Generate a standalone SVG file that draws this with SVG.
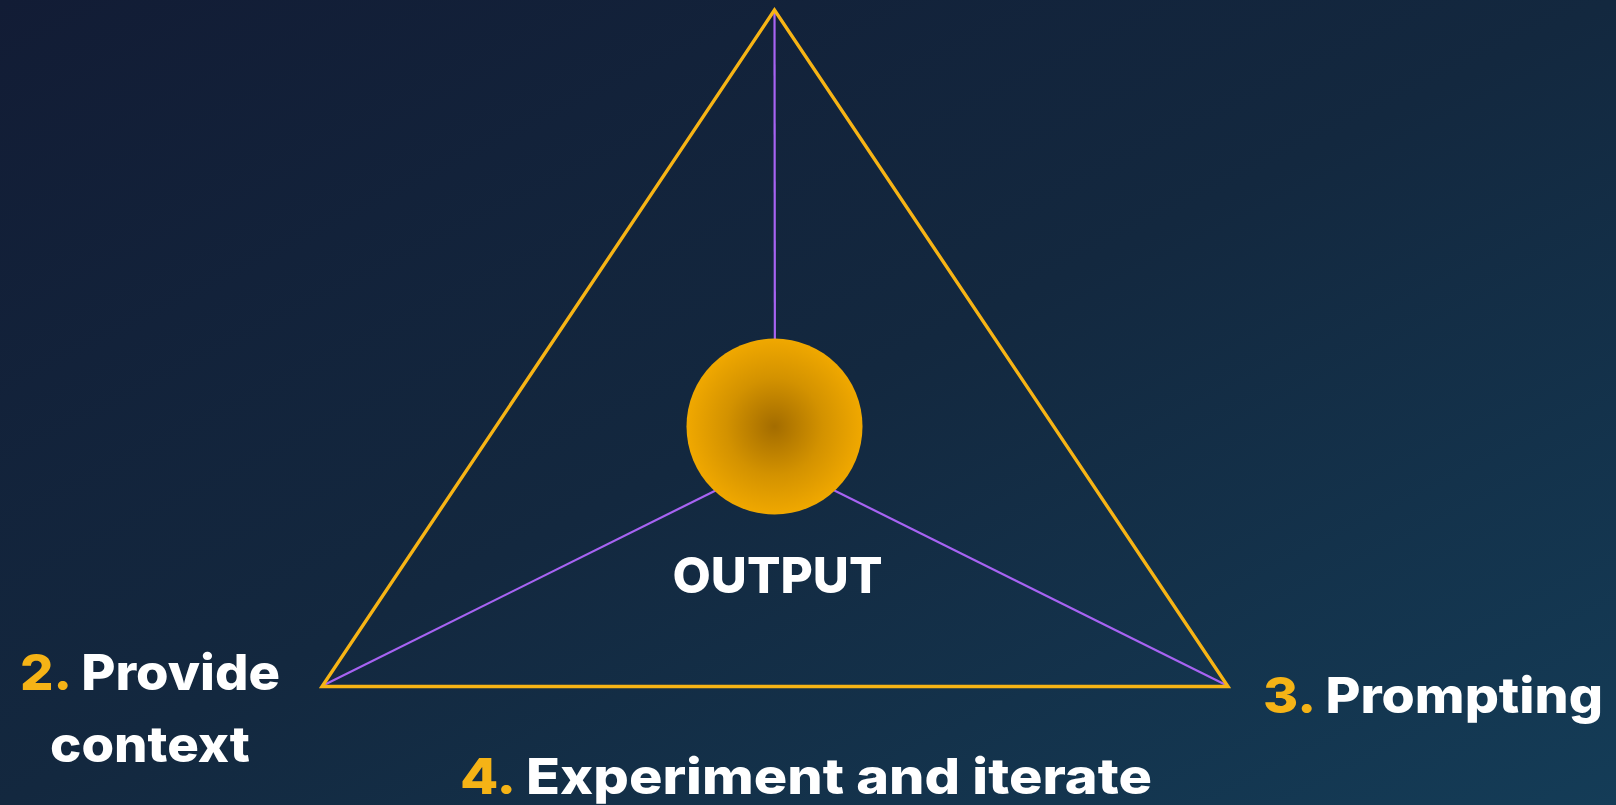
<svg xmlns="http://www.w3.org/2000/svg" width="1616" height="805" viewBox="0 0 1616 805">
<defs>
<linearGradient id="bg" x1="0" y1="0" x2="1" y2="1">
<stop offset="0" stop-color="#121c35"/>
<stop offset="0.5" stop-color="#13283f"/>
<stop offset="1" stop-color="#143c57"/>
</linearGradient>
<radialGradient id="orb" cx="0.5" cy="0.5" r="0.5">
<stop offset="0" stop-color="#a36c00"/>
<stop offset="0.55" stop-color="#d39200"/>
<stop offset="1" stop-color="#f0a800"/>
</radialGradient>
<style>
.lbl{font-family:"Inter","Liberation Sans",sans-serif;font-weight:800;font-size:50px;fill:#ffffff}
.num{fill:#f5b316}
.spoke{stroke:#a763f2;stroke-width:2.2;fill:none}
.tri{stroke:#f7b415;stroke-width:3.4;fill:none;stroke-linejoin:miter}
</style>
</defs>
<rect width="1616" height="805" fill="url(#bg)"/>
<g id="connectors">
<line class="spoke" x1="774.5" y1="10" x2="775" y2="461"/>
<line class="spoke" x1="325" y1="684.5" x2="775" y2="461"/>
<line class="spoke" x1="1225" y1="684.5" x2="775" y2="461"/>
<polygon class="tri" points="774.5,10 322,686.5 1228,686.5"/>
</g>
<g id="output-node">
<circle cx="774.5" cy="426.5" r="88" fill="url(#orb)"/>
<text class="lbl" x="777.5" y="592.5" text-anchor="middle" textLength="210" lengthAdjust="spacingAndGlyphs">OUTPUT</text>
</g>
<g id="provide-context">
<text class="lbl" x="20" y="690" textLength="260" lengthAdjust="spacingAndGlyphs"><tspan class="num">2.</tspan> Provide</text>
<text class="lbl" x="50" y="762" textLength="200" lengthAdjust="spacingAndGlyphs">context</text>
</g>
<g id="prompting">
<text class="lbl" x="1263" y="713" textLength="340" lengthAdjust="spacingAndGlyphs"><tspan class="num">3.</tspan> Prompting</text>
</g>
<g id="experiment">
<text class="lbl" x="460" y="794" textLength="692" lengthAdjust="spacingAndGlyphs"><tspan class="num">4.</tspan> Experiment and iterate</text>
</g>
</svg>
